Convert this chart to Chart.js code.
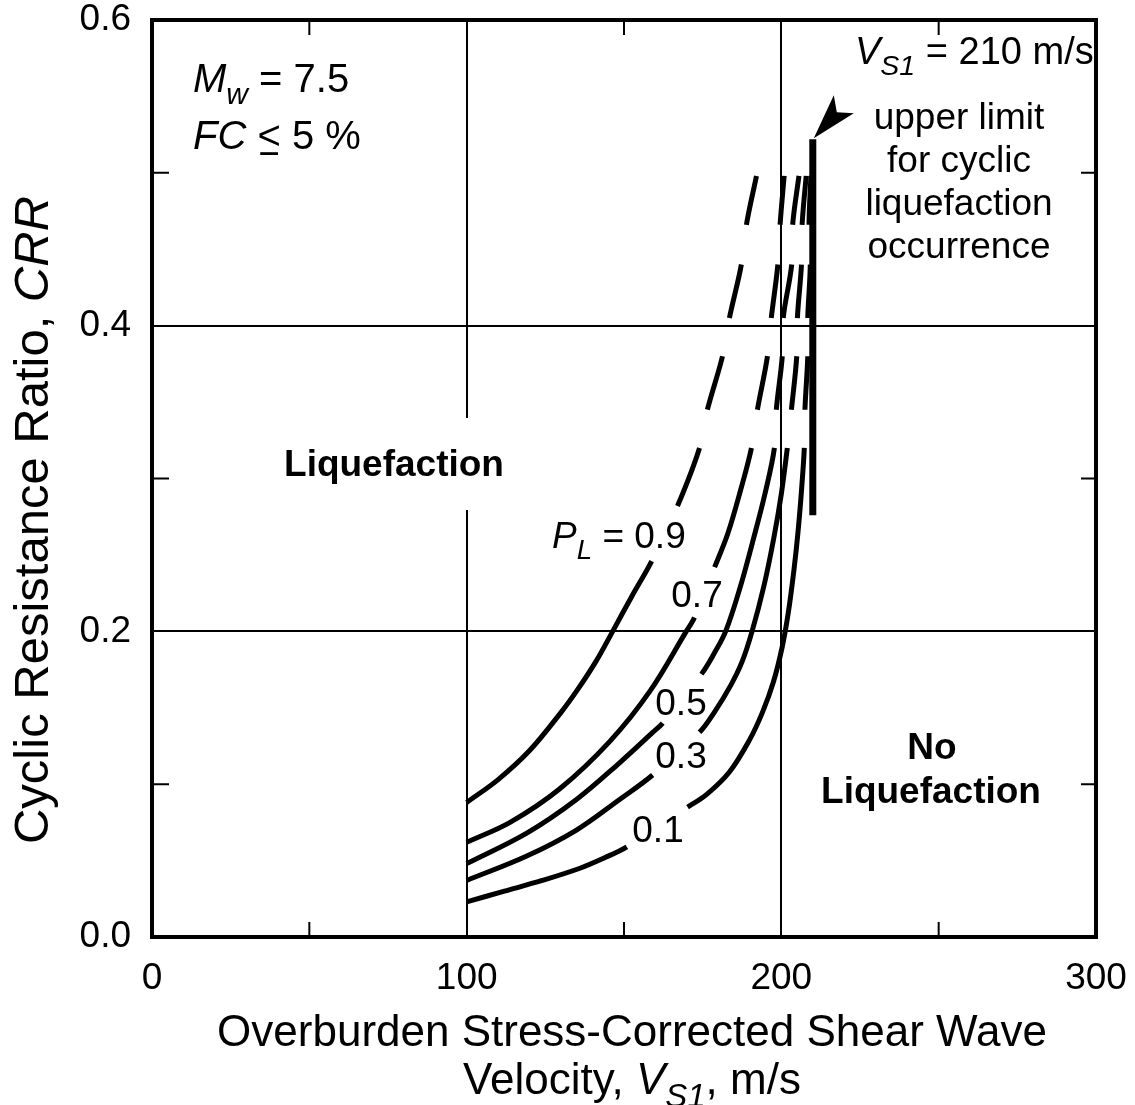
<!DOCTYPE html>
<html lang="en">
<head>
<meta charset="UTF-8">
<title>CRR - Vs1 Liquefaction Curves</title>
<script src="https://cdn.jsdelivr.net/npm/chart.js"></script>
<style>
  html, body { margin: 0; padding: 0; background: #fff; }
</style>
</head>
<body>
<canvas id="crrChart" width="1135" height="1105"></canvas>
<script>
// Axis ticks and grid positions
const vs1Ticks = [0, 100, 200, 300];
const crrTicks = [0.0, 0.2, 0.4, 0.6];
const vs1Minor = [50, 150, 250];
const crrMinor = [0.1, 0.3, 0.5];
const vs1Grid = [100, 200];
const crrGrid = [0.2, 0.4];

// Probability curves (P_L)
const pl90Vs1 = [100, 110, 120, 130, 135.3, 141.0, 146.4, 152.5, 158.8, 167.0, 174.0, 176.5, 181.3, 183.5, 187.3, 188.9, 192.1];
const pl90Crr = [0.088, 0.103, 0.122, 0.147, 0.162, 0.180, 0.200, 0.223, 0.246, 0.282, 0.320, 0.345, 0.380, 0.405, 0.440, 0.466, 0.498];
const pl90Gaps = [[0.246, 0.282], [0.320, 0.345], [0.380, 0.405], [0.440, 0.466]];

const pl70Vs1 = [100, 113.8, 129.6, 145.5, 158.3, 169.5, 172.4, 178.8, 183.0, 187.0, 190.5, 192.4, 195.6, 196.8, 198.9, 199.6, 200.9];
const pl70Crr = [0.062, 0.075, 0.097, 0.128, 0.161, 0.199, 0.209, 0.242, 0.264, 0.292, 0.320, 0.345, 0.380, 0.405, 0.440, 0.466, 0.498];
const pl70Gaps = [[0.209, 0.242], [0.320, 0.345], [0.380, 0.405], [0.440, 0.466]];

const pl50Vs1 = [100, 119.1, 134.9, 148.6, 159.2, 162.3, 174.6, 178.5, 182.3, 186.8, 191.2, 194.8, 197.8, 198.4, 200.3, 200.6, 203.3, 203.6, 205.6];
const pl50Crr = [0.048, 0.068, 0.090, 0.114, 0.134, 0.140, 0.172, 0.185, 0.200, 0.228, 0.261, 0.290, 0.320, 0.345, 0.380, 0.405, 0.440, 0.466, 0.498];
const pl50Gaps = [[0.140, 0.172], [0.320, 0.345], [0.380, 0.405], [0.440, 0.466]];

const pl30Vs1 = [100, 119.1, 134.9, 148.6, 159.1, 174.0, 179.0, 184.0, 187.5, 190.7, 194.5, 197.6, 200.0, 201.9, 203.2, 204.9, 205.1, 206.4, 206.6, 207.9];
const pl30Crr = [0.037, 0.053, 0.070, 0.090, 0.106, 0.134, 0.148, 0.165, 0.180, 0.200, 0.230, 0.261, 0.290, 0.320, 0.345, 0.380, 0.405, 0.440, 0.466, 0.498];
const pl30Gaps = [[0.106, 0.134], [0.320, 0.345], [0.380, 0.405], [0.440, 0.466]];

const pl10Vs1 = [100, 112, 124, 136, 144, 150.9, 170.2, 176.1, 183.5, 189.9, 194.0, 197.5, 200.3, 202.2, 204.0, 205.3, 206.4, 207.3, 207.5, 208.4, 208.4, 209.2, 208.8, 209.4];
const pl10Crr = [0.023, 0.030, 0.037, 0.045, 0.052, 0.059, 0.085, 0.093, 0.108, 0.129, 0.147, 0.167, 0.190, 0.212, 0.240, 0.265, 0.292, 0.320, 0.345, 0.380, 0.405, 0.440, 0.466, 0.498];
const pl10Gaps = [[0.059, 0.085], [0.320, 0.345], [0.380, 0.405], [0.440, 0.466]];

// Vs1 = 210 m/s upper limit
const limitVs1 = [210, 210];
const limitCrr = [0.276, 0.522];

const FONT = '"Liberation Sans", Arial, Helvetica, sans-serif';
const CLEAR = 'rgba(0,0,0,0)';

function curve(vs1, crr, gaps) {
    return {
        data: vs1.map((v, i) => ({ x: v, y: crr[i] })),
        showLine: true,
        borderColor: '#000',
        borderWidth: 5,
        pointRadius: 0,
        tension: 0.35,
        segment: {
            borderColor: c => {
                const m = (c.p0.parsed.y + c.p1.parsed.y) / 2;
                return gaps.some(g => m > g[0] && m < g[1]) ? CLEAR : '#000';
            }
        }
    };
}

// text made of runs: {t, italic, bold, sub, under}
function runFont(r, size) {
    const s = r.sub ? size * 0.75 : size;
    return (r.italic ? 'italic ' : '') + (r.bold ? 'bold ' : '') + s + 'px ' + FONT;
}
function drawRuns(ctx, runs, x, y, size, align) {
    let total = 0;
    runs.forEach(r => {
        ctx.font = runFont(r, size);
        r.w = ctx.measureText(r.t).width;
        total += r.w;
    });
    let cx = align === 'center' ? x - total / 2 : x;
    runs.forEach(r => {
        ctx.font = runFont(r, size);
        ctx.fillText(r.t, cx, r.sub ? y + size * 0.3 : y);
        if (r.under) {
            ctx.fillRect(cx + r.w * 0.12, y + size * 0.08, r.w * 0.76, size * 0.07);
        }
        cx += r.w;
    });
    return total;
}

const decor = {
    id: 'decor',
    afterDatasetsDraw(chart) {
        const { ctx, chartArea: a, scales: { x, y } } = chart;
        ctx.save();
        ctx.fillStyle = '#000';
        ctx.strokeStyle = '#000';
        ctx.textAlign = 'left';
        ctx.textBaseline = 'alphabetic';

        // "Liquefaction" sits on the 100 m/s grid line
        ctx.font = 'bold 37px ' + FONT;
        const lw = ctx.measureText('Liquefaction').width;
        ctx.fillStyle = '#fff';
        ctx.fillRect(394 - lw / 2 - 6, 476 - 58, lw + 12, 92);
        ctx.fillStyle = '#000';
        drawRuns(ctx, [{ t: 'Liquefaction', bold: true }], 394, 476, 37, 'center');
        drawRuns(ctx, [{ t: 'No', bold: true }], 932, 759, 37, 'center');
        drawRuns(ctx, [{ t: 'Liquefaction', bold: true }], 931, 803, 37, 'center');

        // conditions
        drawRuns(ctx, [{ t: 'M', italic: true }, { t: 'w', italic: true, sub: true }, { t: ' = 7.5' }], 193, 92, 40);
        drawRuns(ctx, [{ t: 'FC', italic: true }, { t: ' ' }, { t: '<', under: true }, { t: ' 5 %' }], 193, 149, 40);

        // upper limit note
        drawRuns(ctx, [{ t: 'V', italic: true }, { t: 'S1', italic: true, sub: true }, { t: ' = 210 m/s' }], 855, 64, 38);
        ['upper limit', 'for cyclic', 'liquefaction', 'occurrence'].forEach((s, i) => {
            drawRuns(ctx, [{ t: s }], 959, 129 + i * 43, 37, 'center');
        });

        // arrow to the top of the limit line
        const tx = x.getPixelForValue(limitVs1[1]);
        const ty = y.getPixelForValue(limitCrr[1]);
        ctx.beginPath();
        ctx.moveTo(tx + 1, ty - 1);
        ctx.lineTo(tx + 21, ty - 44);
        ctx.lineTo(tx + 24, ty - 27);
        ctx.lineTo(tx + 41, ty - 26);
        ctx.closePath();
        ctx.fill();

        // curve labels
        drawRuns(ctx, [{ t: 'P', italic: true }, { t: 'L', italic: true, sub: true }, { t: ' = 0.9' }], 552, 548, 37);
        drawRuns(ctx, [{ t: '0.7' }], 697, 607, 37, 'center');
        drawRuns(ctx, [{ t: '0.5' }], 681, 715, 37, 'center');
        drawRuns(ctx, [{ t: '0.3' }], 681, 768, 37, 'center');
        drawRuns(ctx, [{ t: '0.1' }], 658, 842, 37, 'center');

        // frame
        ctx.lineWidth = 4;
        ctx.strokeRect(a.left, a.top, a.right - a.left, a.bottom - a.top);

        // inward minor ticks
        ctx.lineWidth = 2;
        ctx.beginPath();
        vs1Minor.forEach(v => {
            const px = x.getPixelForValue(v);
            ctx.moveTo(px, a.bottom); ctx.lineTo(px, a.bottom - 15);
            ctx.moveTo(px, a.top); ctx.lineTo(px, a.top + 15);
        });
        crrMinor.forEach(v => {
            const py = y.getPixelForValue(v);
            ctx.moveTo(a.left, py); ctx.lineTo(a.left + 17, py);
            ctx.moveTo(a.right, py); ctx.lineTo(a.right - 15, py);
        });
        ctx.stroke();

        // axis titles
        drawRuns(ctx, [{ t: 'Overburden Stress-Corrected Shear Wave' }], 632, 1046, 44, 'center');
        drawRuns(ctx, [{ t: 'Velocity, ' }, { t: 'V', italic: true }, { t: 'S1', italic: true, sub: true }, { t: ', m/s' }], 632, 1094, 44, 'center');
        ctx.translate(48, 520);
        ctx.rotate(-Math.PI / 2);
        drawRuns(ctx, [{ t: 'Cyclic Resistance Ratio, ' }, { t: 'CRR', italic: true }], 0, 0, 49, 'center');
        ctx.restore();
    }
};

const crrCtx = document.getElementById('crrChart').getContext('2d');
new Chart(crrCtx, {
    type: 'scatter',
    data: {
        datasets: [
            curve(pl90Vs1, pl90Crr, pl90Gaps),
            curve(pl70Vs1, pl70Crr, pl70Gaps),
            curve(pl50Vs1, pl50Crr, pl50Gaps),
            curve(pl30Vs1, pl30Crr, pl30Gaps),
            curve(pl10Vs1, pl10Crr, pl10Gaps),
            {
                data: limitVs1.map((v, i) => ({ x: v, y: limitCrr[i] })),
                showLine: true,
                borderColor: '#000',
                borderWidth: 7,
                pointRadius: 0
            }
        ]
    },
    options: {
        responsive: false,
        devicePixelRatio: 1,
        animation: false,
        layout: { padding: { top: 20, right: 39, left: 0, bottom: 0 } },
        plugins: { legend: { display: false }, tooltip: { enabled: false } },
        scales: {
            x: {
                type: 'linear',
                min: 0,
                max: 300,
                afterBuildTicks: s => { s.ticks = vs1Ticks.map(v => ({ value: v })); },
                afterFit: s => { s.height = 168; s.paddingLeft = 0; s.paddingRight = 0; },
                ticks: { font: { family: FONT, size: 37 }, color: '#000', padding: 20, maxRotation: 0, autoSkip: false },
                grid: {
                    color: c => (c.tick && vs1Grid.includes(c.tick.value)) ? '#000' : CLEAR,
                    lineWidth: 2,
                    drawTicks: false
                },
                border: { display: false }
            },
            y: {
                type: 'linear',
                min: 0,
                max: 0.6,
                afterBuildTicks: s => { s.ticks = crrTicks.map(v => ({ value: v })); },
                afterFit: s => { s.width = 152; s.paddingTop = 0; s.paddingBottom = 0; },
                ticks: {
                    font: { family: FONT, size: 37 },
                    color: '#000',
                    padding: 21,
                    autoSkip: false,
                    callback: v => v.toFixed(1)
                },
                grid: {
                    color: c => (c.tick && crrGrid.some(g => Math.abs(g - c.tick.value) < 1e-9)) ? '#000' : CLEAR,
                    lineWidth: 2,
                    drawTicks: false
                },
                border: { display: false }
            }
        }
    },
    plugins: [decor]
});
</script>
</body>
</html>
